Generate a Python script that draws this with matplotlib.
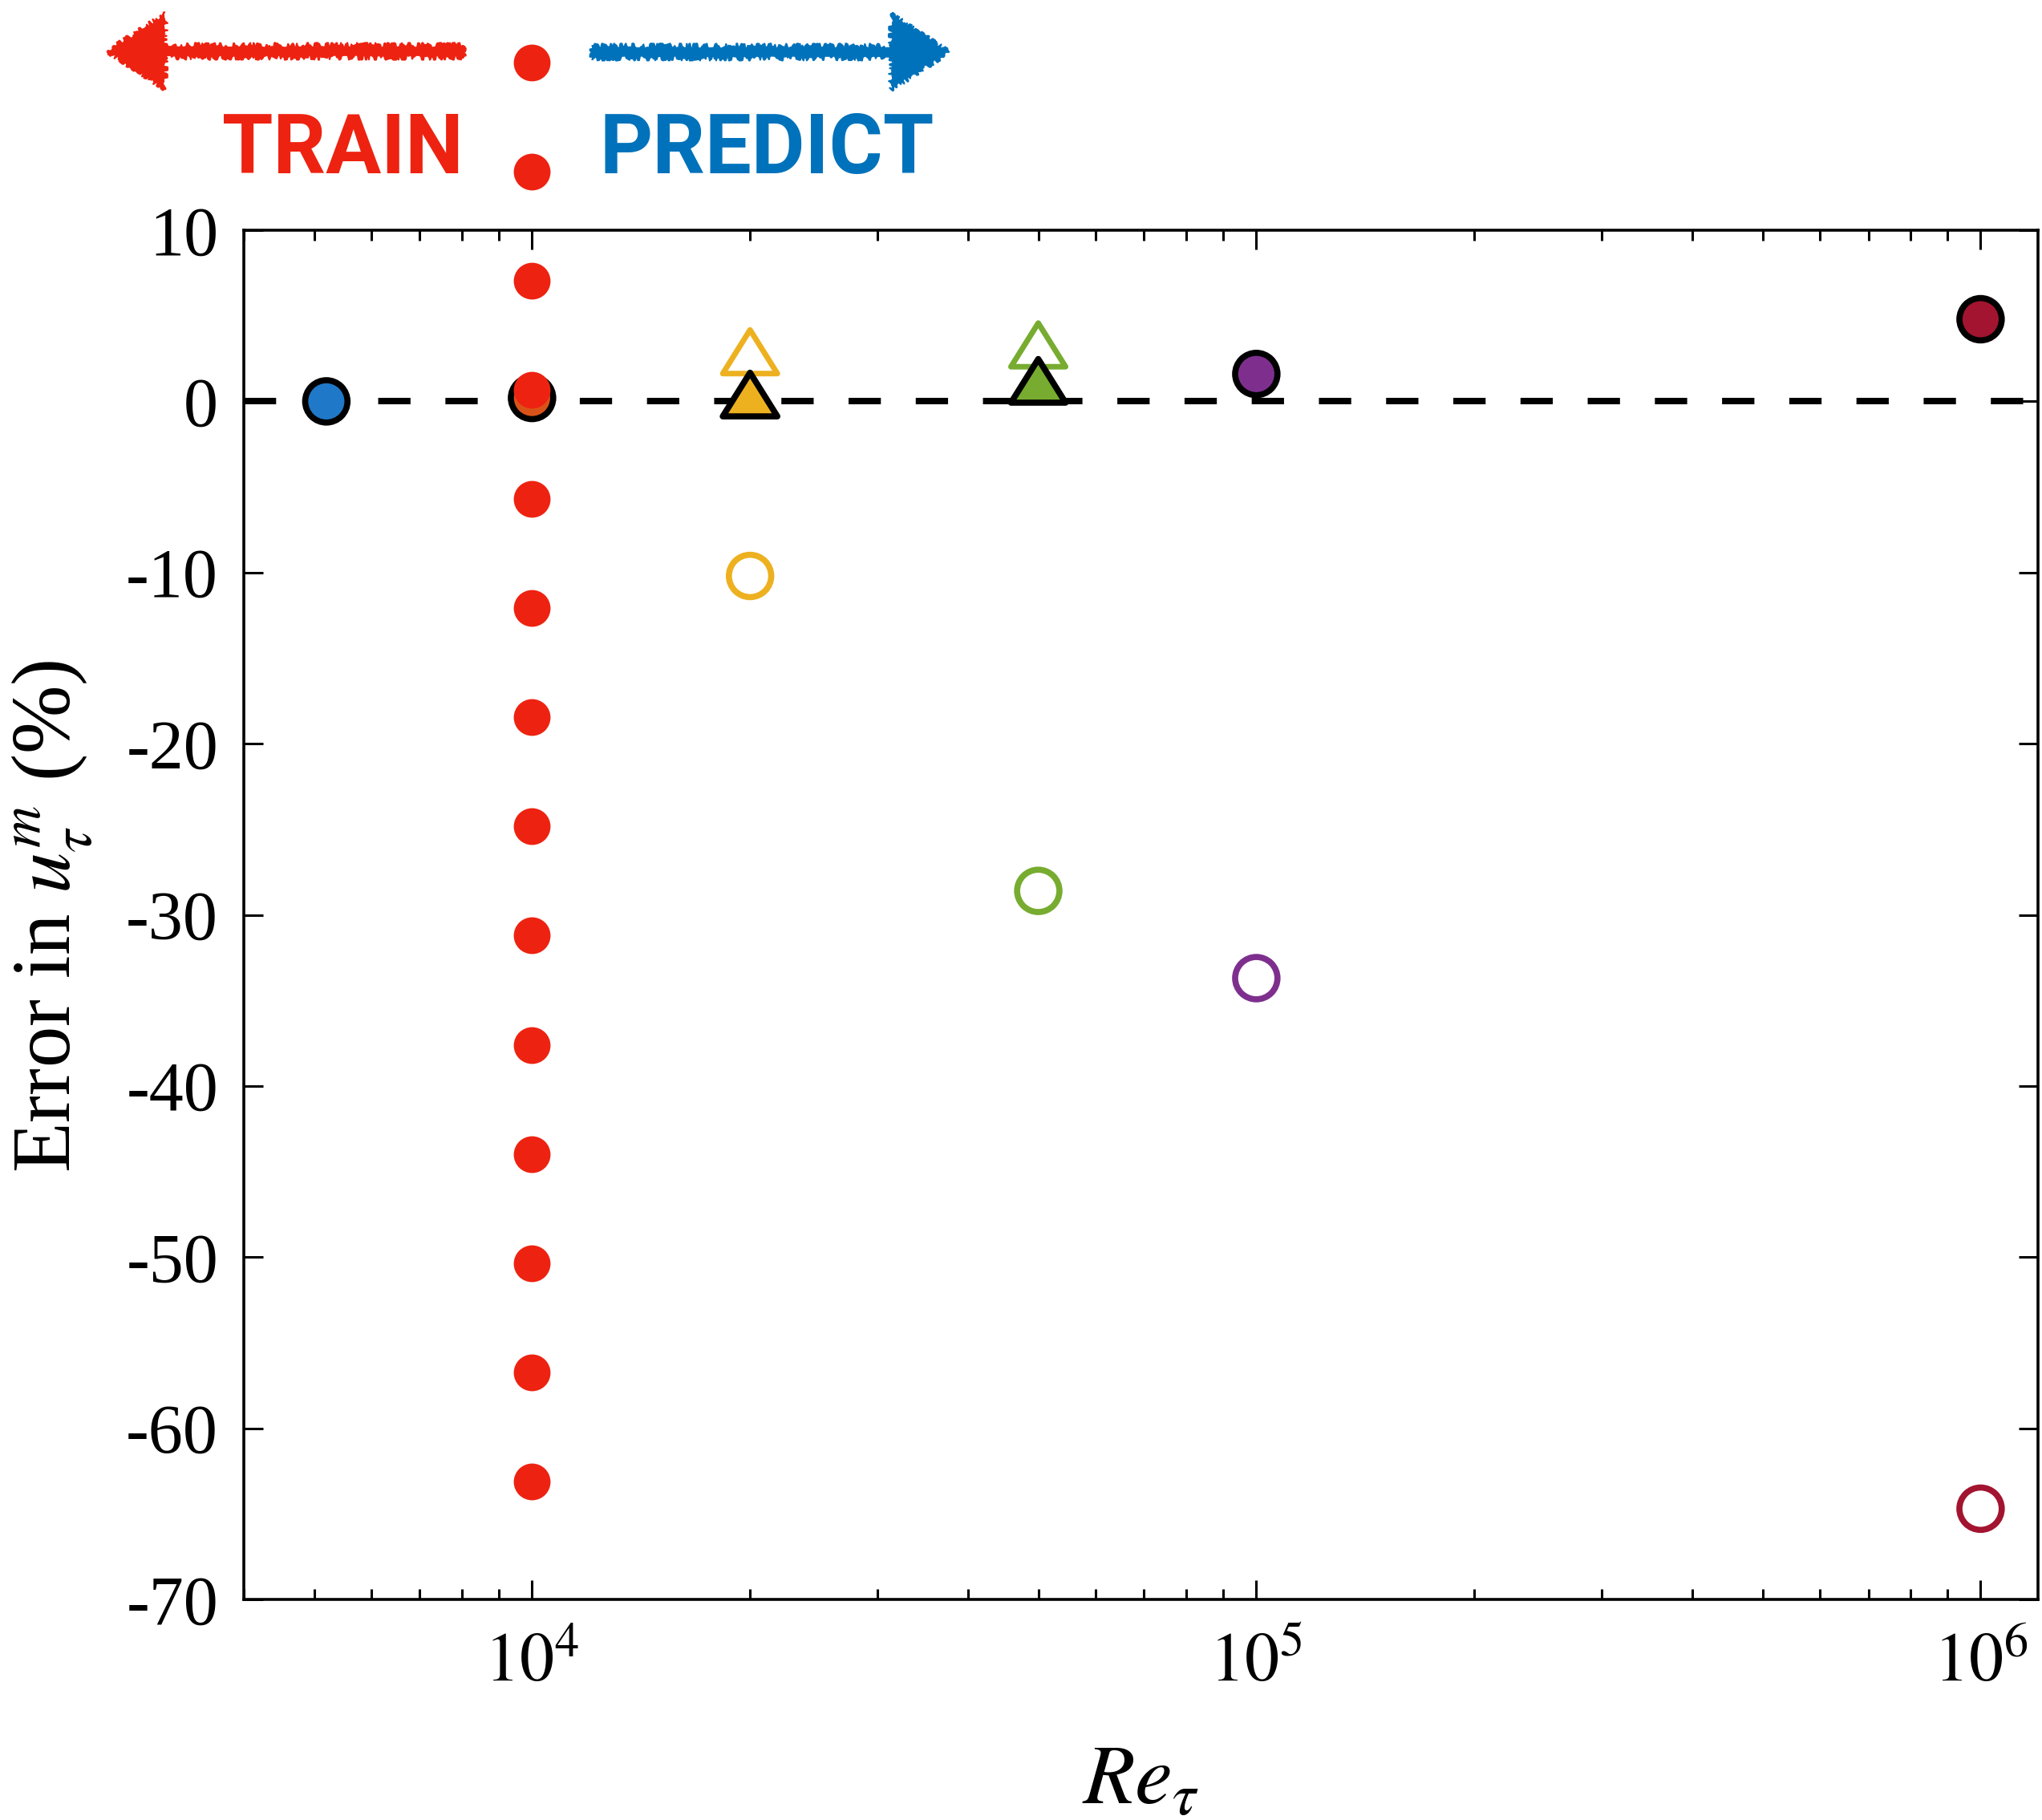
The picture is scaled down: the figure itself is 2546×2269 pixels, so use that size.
import numpy as np
import matplotlib
matplotlib.use("Agg")
import matplotlib.pyplot as plt
from matplotlib.patches import FancyArrowPatch
from matplotlib.patches import ArrowStyle
from matplotlib.path import Path
from matplotlib.ticker import LogLocator, NullFormatter, FixedLocator, FixedFormatter

plt.rcParams['font.family'] = ['Liberation Serif', 'DejaVu Serif']
plt.rcParams['mathtext.fontset'] = 'stix'

# ---- data -------------------------------------------------------------
# colour of each Re_tau case
case_re = [5200, 1e4, 2e4, 5e4, 1e5, 1e6]
case_colors = ['#1f78c8', '#d95319', '#edb120', '#77ac30', '#7e2f8e', '#a2142f']

# filled circles (black edge)
fc_re = [5200, 1e4, 1e5, 1e6]
fc_err = [0.0, 0.2, 1.6, 4.8]

# filled triangles (black edge)
ft_re = [2e4, 5e4]
ft_err = [0.4, 1.2]

# open triangles
ot_re = [2e4, 5e4]
ot_err = [2.9, 3.3]

# open circles
oc_re = [2e4, 5e4, 1e5, 1e6]
oc_err = [-10.2, -28.6, -33.7, -64.7]

# axis ticks
x_major = [1e4, 1e5, 1e6]
x_major_labels = ['$10^{4}$', '$10^{5}$', '$10^{6}$']
y_ticks = [10, 0, -10, -20, -30, -40, -50, -60, -70]
y_tick_labels = ['10', '0', '-10', '-20', '-30', '-40', '-50', '-60', '-70']

# train / predict divider
divider_re = 1e4
divider_top, divider_bottom, divider_n = 19.8, -63.1, 14

color_of = dict(zip(case_re, case_colors))

# ---- figure -----------------------------------------------------------
fig = plt.figure(figsize=(25.46, 22.69), dpi=100)
ax = fig.add_axes([0.1194, 0.1212, 0.998 - 0.1194, 0.8735 - 0.1212])

ax.set_xscale('log')
ax.set_xlim(4000, 1.2e6)
ax.set_ylim(-70, 10)

ax.axhline(0, color='black', lw=5.8, dashes=(5, 5.4), dash_capstyle='butt', zorder=1)

# upward triangle marker, a little wider than tall
tri = Path([(0, 0.8), (-1, -0.8), (1, -0.8), (0, 0.8)], closed=True)

ax.scatter(oc_re, oc_err, s=38**2, marker='o', facecolors='none',
           edgecolors=[color_of[r] for r in oc_re], linewidths=5.5, zorder=3)
ax.scatter(ot_re, ot_err, s=49**2, marker=tri, facecolors='none',
           edgecolors=[color_of[r] for r in ot_re], linewidths=5.0, zorder=3)
ax.scatter(ft_re, ft_err, s=49**2, marker=tri,
           facecolors=[color_of[r] for r in ft_re], edgecolors='black',
           linewidths=5.5, zorder=4)
ax.scatter(fc_re, fc_err, s=38**2, marker='o',
           facecolors=[color_of[r] for r in fc_re], edgecolors='black',
           linewidths=5.5, zorder=4)

# dotted red divider between training and prediction ranges
div_y = np.linspace(divider_top, divider_bottom, divider_n)
ax.plot(np.full(divider_n, divider_re), div_y, 'o', color='#ee2211', ms=33,
        mec='none', clip_on=False, zorder=10)

# ticks
ax.xaxis.set_major_locator(FixedLocator(x_major))
ax.xaxis.set_major_formatter(FixedFormatter(x_major_labels))
ax.xaxis.set_minor_locator(LogLocator(base=10, subs=np.arange(2, 10)))
ax.xaxis.set_minor_formatter(NullFormatter())
ax.set_yticks(y_ticks)
ax.set_yticklabels(y_tick_labels)

ax.tick_params(which='both', direction='in', top=True, right=True, width=2.2)
ax.tick_params(which='major', length=17)
ax.tick_params(which='minor', length=9.5)
ax.tick_params(axis='x', which='major', labelsize=62, pad=30)
ax.tick_params(axis='y', which='major', labelsize=62, pad=23)
for sp in ax.spines.values():
    sp.set_linewidth(2.6)

ax.set_xlabel('$Re_\\tau$', fontsize=76)
ax.set_ylabel('Error in $u_\\tau^m$ (%)', fontsize=74)
ax.xaxis.set_label_coords(0.5, -0.106)
ax.yaxis.set_label_coords(-0.083, 0.499)

# ---- train / predict header -------------------------------------------
red = '#ee2211'
blue = '#0072bb'
arrow_style = ArrowStyle.Simple(head_length=52, head_width=68, tail_width=11)
for tail, tip, col in [((0.227, 0.9718), (0.0526, 0.9718), red),
                       ((0.290, 0.9714), (0.4647, 0.9714), blue)]:
    arr = FancyArrowPatch(tail, tip, transform=fig.transFigure,
                          arrowstyle=arrow_style, mutation_scale=1,
                          shrinkA=0, shrinkB=0, color=col, lw=1.5)
    arr.set_sketch_params(scale=3, length=12, randomness=24)
    fig.add_artist(arr)

fig.text(0.1677, 0.9048, 'TRAIN', color=red, fontsize=74, fontweight='bold',
         family='Roboto', ha='center', va='baseline')
fig.text(0.3756, 0.9048, 'PREDICT', color=blue, fontsize=74, fontweight='bold',
         family='Roboto', ha='center', va='baseline')

fig.savefig('out.png', dpi=100, facecolor='white')
